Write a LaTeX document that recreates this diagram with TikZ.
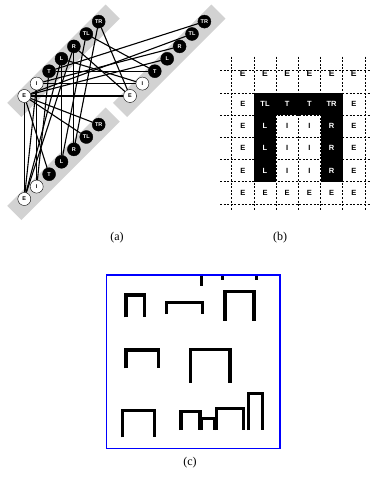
\documentclass[tikz,border=0pt]{standalone}
\usepackage{fontspec}
\setmainfont{Liberation Serif}
\newfontfamily\tilefont{Liberation Sans}
\usetikzlibrary{calc}
\pgfdeclarelayer{back}
\pgfsetlayers{back,main}
\tikzset{
  wtile/.style={circle,draw=black,thin,fill=white,text=black,inner sep=0pt,minimum size=13pt,font=\tilefont\bfseries\fontsize{5.5}{5.5}\selectfont},
  btile/.style={wtile,fill=black,text=white},
  band/.style={line width=20pt,gray!35},
  adj/.style={line width=1.1pt,black},
  grd/.style={dash pattern=on 2pt off 1.6pt,line width=0.6pt},
  glyph/.style={inner sep=0pt,minimum size=22.2pt,font=\tilefont\bfseries\fontsize{7.5}{7.5}\selectfont},
  topglyph/.style={glyph,font=\tilefont\bfseries\fontsize{8.5}{8.5}\selectfont},
  % cell looks per tile letter
  gE/.style={text=black},
  gI/.style={text=black},
  gT/.style={fill=black,text=white},
  gL/.style={gT},
  gR/.style={gT},
  gTL/.style={gT},
  gTR/.style={gT},
  bar/.style={line width=3.4pt,black},
  frame/.style={draw=blue,line width=1.2pt},
  captxt/.style={font=\fontsize{12}{14}\selectfont}
}
\begin{document}
\begin{tikzpicture}[x=1pt,y=-1pt]
\useasboundingbox (0,0) rectangle (377,478);

% (a) tile alphabet, one copy per side
\foreach \g/\ox/\oy in {a/24.3/96,b/130/96,c/24.3/199}{
  \begin{pgfonlayer}{back}
    \draw[band] ($(\ox,\oy)+(-10,14)$) -- ($(\ox,\oy)+(88.4,-84.4)$);
  \end{pgfonlayer}
  \foreach \lab/\sty [count=\i from 0] in {E/wtile,I/wtile,T/btile,L/btile,R/btile,TL/btile,TR/btile}
    \node[\sty] (\g\lab) at (\ox+12.4*\i,\oy-12.4*\i) {\lab};
}
\begin{pgfonlayer}{back}
  % left-right neighbours
  \foreach \p/\q in {E/E,E/TL,TL/T,T/T,T/TR,TR/E,E/L,L/I,I/I,I/R,R/E}
    \draw[adj] (a\p) -- (b\q);
  % top-bottom neighbours
  \foreach \p/\q in {E/E,E/TL,E/T,E/TR,TL/L,T/I,TR/R,L/L,I/I,R/R,L/E,I/E,R/E}
    \draw[adj] (a\p) -- (c\q);
\end{pgfonlayer}
\node[captxt] (capa) at (117,238) {(a)};

% (b) labelled grid; the top row sits higher than the others
\foreach \r/\row in {1/{E,TL,T,T,TR,E},2/{E,L,I,I,R,E},3/{E,L,I,I,R,E},4/{E,L,I,I,R,E},5/{E,E,E,E,E,E}}
  \foreach \lab [count=\c from 0] in \row
    \node[glyph,g\lab] (g\r\c) at (242.8+22.2*\c,81.8+22.2*\r) {\lab};
\foreach \c in {0,...,5}
  \node[topglyph,gE] (g0\c) at (242.8+22.2*\c,74) {E};
\foreach \k in {0,...,6}{
  \draw[grd] (220,70.7+22.2*\k) -- (370,70.7+22.2*\k);
  \draw[grd] (231.7+22.2*\k,56.7) -- (231.7+22.2*\k,210);
}
\node[captxt] (capb) at (280,238) {(b)};

% (c) extracted outlines
\draw[frame] (106.7,275) rectangle (280,448.3);
\draw[bar] (201.7,276) -- (201.7,286);
\draw[bar] (222.3,276) -- (222.3,279.5);
\draw[bar] (256.7,276) -- (256.7,279.5);
\foreach \xa/\xb/\yt/\yb in {126/144.3/295/317.3,166.7/202.7/302.7/314,225/254/291.7/320.7,
    126/158.3/350/368.3,190.7/230/349.3/382.7,
    122.7/154.3/410.7/437.3,181/200/411.7/430,201.7/215/418.3/430,216.7/243.3/408.3/430,248.3/262.3/393.3/430}
  \draw[bar] (\xa,\yb) -- (\xa,\yt) -- (\xb,\yt) -- (\xb,\yb);
\node[captxt] (capc) at (190,463) {(c)};
\end{tikzpicture}
\end{document}
